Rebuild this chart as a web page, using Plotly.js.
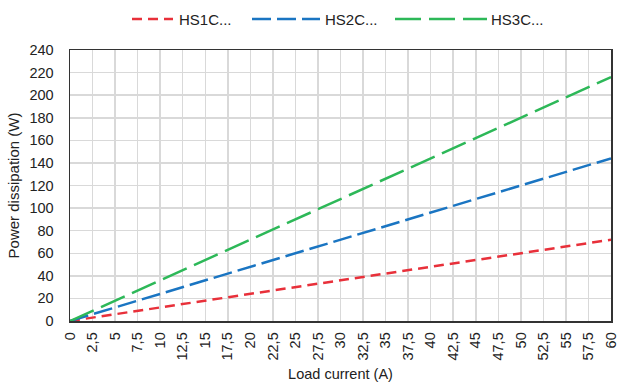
<!DOCTYPE html>
<html>
<head>
<meta charset="utf-8">
<script src="https://cdn.plot.ly/plotly-3.0.1.min.js"></script>
<style>html,body{margin:0;padding:0;background:#fff;}#chart{width:618px;height:385px;}</style>
</head>
<body>
<div id="chart"></div>
<script>
const seriesNames = ["HS1C...", "HS2C...", "HS3C..."];
const loadCurrent = [0, 60];
const hs1Power = [0, 72];
const hs2Power = [0, 144];
const hs3Power = [0, 216];
const xTickVals = [0,2.5,5,7.5,10,12.5,15,17.5,20,22.5,25,27.5,30,32.5,35,37.5,40,42.5,45,47.5,50,52.5,55,57.5,60];
const xTickText = xTickVals.map(v => String(v).replace('.', ','));

const FONT = 'Liberation Sans, Arial, sans-serif';
const colors = ["#e8303a", "#1a75c2", "#2db858"];
const dashes = ["10px,6px", "19px,6px", "26px,8px"];
const ys = [hs1Power, hs2Power, hs3Power];

const M = {l: 70, r: 7, t: 50, b: 64};
const W = 618, H = 385;
const pw = W - M.l - M.r, ph = H - M.t - M.b;
const px2x = p => (p - M.l) / pw;
const py2y = p => (H - M.b - p) / ph;

// custom legend key geometry (pixels)
const legendKeys = [[132, 173, 177], [252, 320, 323], [395, 487, 489]];
const legendY = 19;

const traces = seriesNames.map((n, i) => ({
  x: loadCurrent, y: ys[i], name: n, type: 'scatter', mode: 'lines',
  line: {color: colors[i], width: 2.5, dash: dashes[i]}, showlegend: false
}));

const shapes = legendKeys.map((k, i) => ({
  type: 'line', xref: 'paper', yref: 'paper',
  x0: px2x(k[0]), x1: px2x(k[1]), y0: py2y(legendY), y1: py2y(legendY),
  line: {color: colors[i], width: 2.5, dash: dashes[i]}
}));
const annotations = legendKeys.map((k, i) => ({
  xref: 'paper', yref: 'paper', x: px2x(k[2]), y: py2y(legendY),
  xanchor: 'left', yanchor: 'middle', showarrow: false,
  text: seriesNames[i], font: {family: FONT, size: 15, color: '#222'}
}));

const layout = {
  width: W, height: H,
  margin: M,
  paper_bgcolor: '#fff', plot_bgcolor: '#fff',
  font: {family: FONT, size: 14, color: '#222'},
  showlegend: false,
  shapes: shapes, annotations: annotations,
  xaxis: {
    range: [0, 60], tickmode: 'array', tickvals: xTickVals, ticktext: xTickText,
    tickangle: -90, showgrid: true, gridcolor: '#d9d9d9', gridwidth: 1.5,
    showline: true, linecolor: '#333', linewidth: 1.5, mirror: true, zeroline: false,
    ticks: '', tickfont: {size: 14.5}, ticklabeloverflow: 'allow', ticklabelstandoff: 4,
    title: {text: 'Load current (A)', font: {size: 14.5}, standoff: 9}
  },
  yaxis: {
    range: [0, 240], dtick: 20, showgrid: true, gridcolor: '#d9d9d9', gridwidth: 1.5,
    showline: true, linecolor: '#333', linewidth: 1.5, mirror: true, zeroline: false,
    ticks: '', tickfont: {size: 14.5}, ticklabelstandoff: 12,
    title: {text: 'Power dissipation (W)', font: {size: 15}, standoff: 6}
  }
};
Plotly.newPlot('chart', traces, layout, {staticPlot: true, displayModeBar: false});
</script>
</body>
</html>
